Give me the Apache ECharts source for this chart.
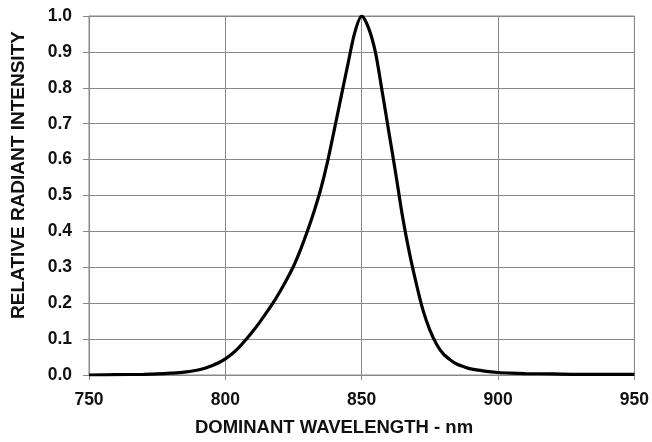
<!DOCTYPE html>
<html>
<head>
<meta charset="utf-8">
<script src="https://cdn.jsdelivr.net/npm/echarts@6/dist/echarts.min.js"></script>
<style>
html,body{margin:0;padding:0;background:#fff;}
#c{width:652px;height:442px;}
</style>
</head>
<body>
<div id="c"></div>
<script>
const wavelengths = [750,760,770,775,780,785,790,792.5,795,797.5,800,802.5,805,807.5,810,812.5,815,817.5,820,822.5,825,827.5,830,832.5,835,837.5,840,842.5,845,847.5,850,852.5,855,857.5,860,862.5,865,867.5,870,872.5,875,877.5,880,882.5,885,887.5,890,895,900,905,910,920,930,940,950];
const intensity = [0.000,0.001,0.002,0.003,0.005,0.008,0.014,0.019,0.026,0.034,0.045,0.059,0.077,0.098,0.121,0.146,0.173,0.201,0.232,0.266,0.303,0.348,0.399,0.455,0.518,0.595,0.685,0.777,0.868,0.955,1.000,0.967,0.900,0.790,0.675,0.560,0.440,0.340,0.255,0.180,0.125,0.085,0.058,0.042,0.030,0.023,0.017,0.011,0.007,0.005,0.004,0.003,0.002,0.002,0.002];
const xTicks = [750,800,850,900,950];
const yTicks = [0.0,0.1,0.2,0.3,0.4,0.5,0.6,0.7,0.8,0.9,1.0];
const xTitle = 'DOMINANT WAVELENGTH - nm';
const yTitle = 'RELATIVE RADIANT INTENSITY';

const chart = echarts.init(document.getElementById('c'), null, {renderer:'canvas'});
const gridColor = '#888888';
const fam = 'Liberation Sans, Arial, sans-serif';
const labelFont = {fontFamily:fam, fontWeight:'bold', fontSize:17.5, color:'#111'};
chart.setOption({
  animation:false,
  backgroundColor:'#fff',
  grid:{left:89, right:17, top:16, bottom:67, containLabel:false,
        show:true, borderColor:gridColor, borderWidth:1},
  graphic:[
    {type:'text', x:334, y:428, silent:true,
     style:{text:xTitle, fontFamily:fam, fontWeight:'bold', fontSize:18.5, fill:'#111',
            align:'center', verticalAlign:'middle'}},
    {type:'text', x:18.5, y:175, rotation:Math.PI/2, silent:true,
     style:{text:yTitle, fontFamily:fam, fontWeight:'bold', fontSize:19, fill:'#111',
            align:'center', verticalAlign:'middle'}}
  ],
  xAxis:{
    type:'value', min:xTicks[0], max:xTicks[xTicks.length-1], interval:50,
    axisLine:{show:true, lineStyle:{color:gridColor, width:1}},
    axisTick:{show:true, length:5, inside:false, lineStyle:{color:gridColor}},
    axisLabel:Object.assign({margin:16, formatter:v=>String(v)}, labelFont),
    splitLine:{show:true, lineStyle:{color:gridColor, width:1}}
  },
  yAxis:{
    type:'value', min:yTicks[0], max:yTicks[yTicks.length-1], interval:0.1,
    axisLine:{show:true, lineStyle:{color:gridColor, width:1}},
    axisTick:{show:true, length:6, inside:false, lineStyle:{color:gridColor}},
    axisLabel:Object.assign({margin:17, formatter:v=>v.toFixed(1)}, labelFont),
    splitLine:{show:true, lineStyle:{color:gridColor, width:1}}
  },
  series:[{
    type:'line',
    data:wavelengths.map((w,i)=>[w,intensity[i]]),
    smooth:0.3,
    showSymbol:false,
    lineStyle:{color:'#000', width:3.2},
    clip:true
  }]
});
</script>
</body>
</html>
